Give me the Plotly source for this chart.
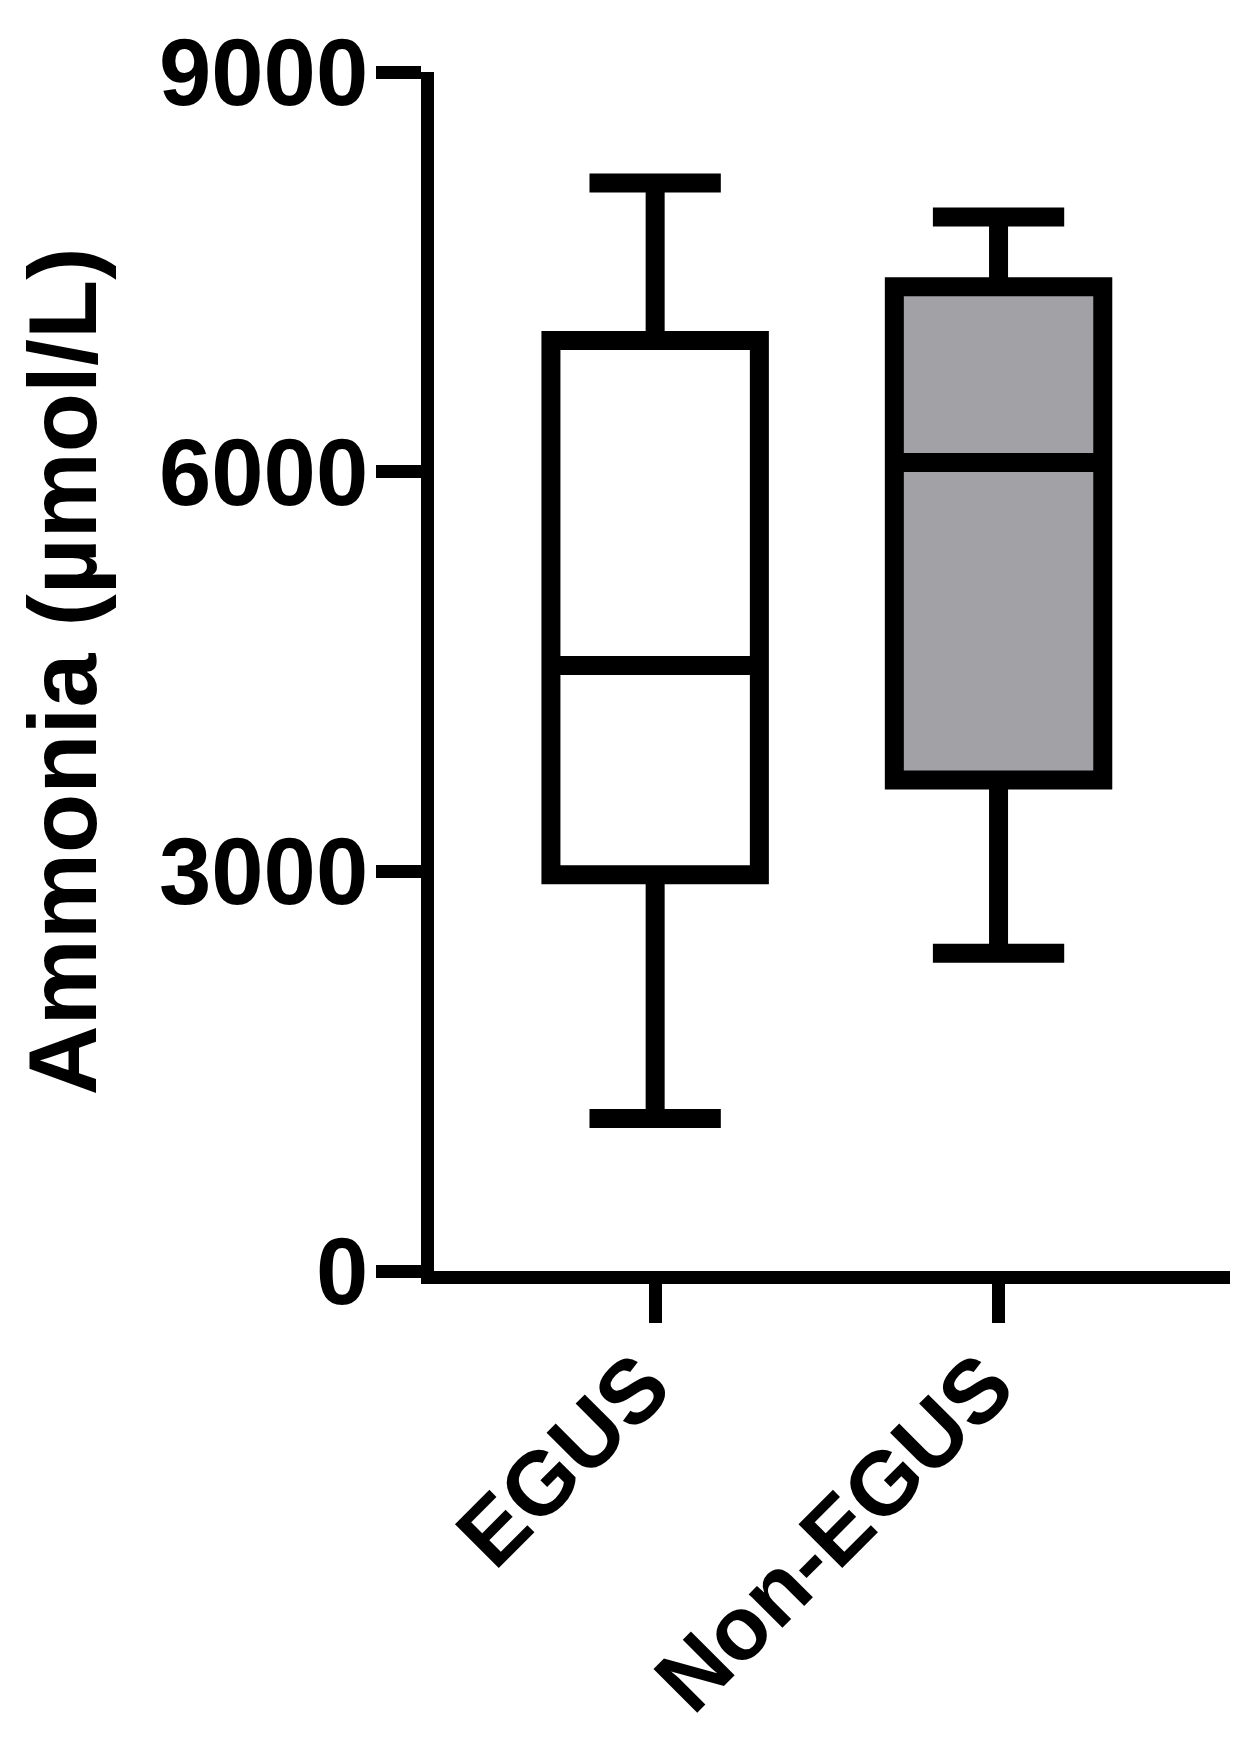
import plotly.graph_objects as go

categories = ["EGUS", "Non-EGUS"]
lower_whisker = [1145, 2385]
q1_values = [2975, 3685]
median_values = [4545, 6068]
q3_values = [6985, 7388]
upper_whisker = [8166, 7911]
fill_colors = ["#ffffff", "#a2a1a5"]
y_ticks = [0, 3000, 6000, 9000]

FONT = "Liberation Sans"

fig = go.Figure()
for i, cat in enumerate(categories):
    fig.add_trace(go.Box(
        x=[cat],
        q1=[q1_values[i]],
        median=[median_values[i]],
        q3=[q3_values[i]],
        lowerfence=[lower_whisker[i]],
        upperfence=[upper_whisker[i]],
        fillcolor=fill_colors[i],
        line=dict(color="black", width=19),
        width=0.607,
        whiskerwidth=0.63,
        boxpoints=False,
        showlegend=False,
        hoverinfo="skip",
    ))

# the page body adds an 8 px offset, so the figure is 16 px smaller than the window
fig.update_layout(
    width=1237,
    height=1723,
    margin=dict(l=425.5, r=15, t=63.7, b=460),
    plot_bgcolor="white",
    paper_bgcolor="white",
    font=dict(family=FONT, color="black", weight="bold"),
)

fig.update_xaxes(
    type="category",
    categoryorder="array",
    categoryarray=categories,
    range=[-0.644, 1.674],
    automargin=False,
    showline=True,
    linecolor="black",
    linewidth=13,
    ticks="outside",
    ticklen=39,
    tickwidth=13,
    tickcolor="black",
    tickangle=-45,
    tickfont=dict(family=FONT, size=90, color="black", weight="bold"),
    ticklabelstandoff=-26,
    ticklabelshift=-12,
    showgrid=False,
    zeroline=False,
)

fig.update_yaxes(
    range=[0, 9000],
    automargin=False,
    tickvals=y_ticks,
    ticktext=[str(v) for v in y_ticks],
    showline=True,
    linecolor="black",
    linewidth=13,
    ticks="outside",
    ticklen=45,
    tickwidth=13,
    tickcolor="black",
    tickfont=dict(family=FONT, size=94, color="black", weight="bold"),
    ticklabelstandoff=-11,
    showgrid=False,
    zeroline=False,
    title=dict(text="Ammonia (µmol/L)", font=dict(family=FONT, size=97, color="black", weight="bold"), standoff=46),
)

fig.write_html("out.html")
